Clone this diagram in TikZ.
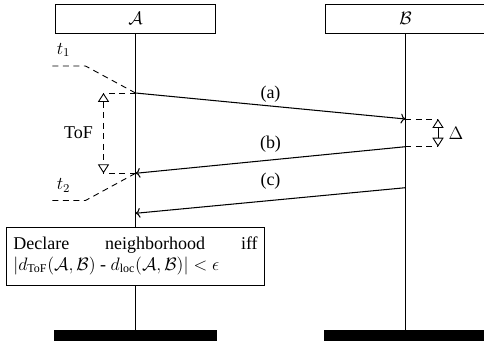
\documentclass[tikz,border=0pt]{standalone}
\usepackage{amsmath}
\usepackage{fontspec}
\setmainfont{Liberation Serif}
\usetikzlibrary{arrows.meta}

\tikzset{
  actor/.style={draw, semithick, fill=white, minimum width=107.3pt, minimum height=19.3pt, inner sep=0pt},
  endbar/.style={fill=black, minimum width=108.7pt, minimum height=7pt, inner sep=0pt},
  lifeline/.style={line width=0.9pt},
  msg/.style={line width=0.7pt, ->},
  guide/.style={semithick, dash pattern=on 4pt off 3pt},
  span/.style={semithick, {Triangle[open, length=6pt, width=7.5pt]}-{Triangle[open, length=6pt, width=7.5pt]}},
  decide/.style={draw, semithick, fill=white, text width=163pt, inner xsep=4.5pt, align=justify,
    minimum height=38.7pt, font=\fontsize{12}{13.5}\selectfont}
}

\begin{document}
\begin{tikzpicture}[x=0.667pt, y=-0.667pt, font=\fontsize{12}{14}\selectfont]
  \useasboundingbox (0,0) rectangle (484,345);

  % the two parties
  \node[actor] (A) at (135.5,18.5) {$\mathcal{A}$};
  \node[actor] (B) at (405.5,18.5) {$\mathcal{B}$};
  \node[endbar] (endA) at (135.5,335.3) {};
  \node[endbar] (endB) at (405.5,335.3) {};
  \draw[lifeline] (A.south) -- (endA.north);
  \draw[lifeline] (B.south) -- (endB.north);

  % message points on the lifelines
  \coordinate (sa) at (A.south |- 0,93);
  \coordinate (ra) at (B.south |- 0,119);
  \coordinate (sb) at (B.south |- 0,146.7);
  \coordinate (rb) at (A.south |- 0,173.3);
  \coordinate (sc) at (B.south |- 0,187.7);
  \coordinate (rc) at (A.south |- 0,213.3);

  \draw[msg] (sa) -- node[above=-1.3pt] {(a)} (ra);
  \draw[msg] (sb) -- node[above=1.7pt] {(b)} (rb);
  \draw[msg] (sc) -- node[above=4pt] {(c)} (rc);

  % processing delay at B
  \draw[guide] (ra) -- ++(32.5,0) coordinate (d1);
  \draw[guide] (sb) -- ++(32.5,0) coordinate (d2);
  \draw[span] (d1) -- node[right=3.5pt] {$\Delta$} (d2);

  % time of flight at A
  \draw[guide] (sa) -- ++(-32,0) coordinate (f1);
  \draw[guide] (rb) -- ++(-32,0) coordinate (f2);
  \draw[span, dash pattern=on 4pt off 3pt] (f1) -- node[left=3.5pt] {ToF} (f2);

  % timestamps
  \draw[guide] (sa) -- ++(-50,-27) -- ++(-37,0);
  \draw[guide] (rb) -- ++(-50,27.2) -- ++(-37,0);
  \node (t1) at (63.5,50) {$t_1$};
  \node (t2) at (63.5,185.5) {$t_2$};

  \node[decide] (dec) at (135.5,256) {Declare neighborhood iff\linebreak
    $|d_{\text{ToF}}(\mathcal{A},\mathcal{B})$ - $d_{\text{loc}}(\mathcal{A},\mathcal{B})| < \epsilon$};
\end{tikzpicture}
\end{document}
